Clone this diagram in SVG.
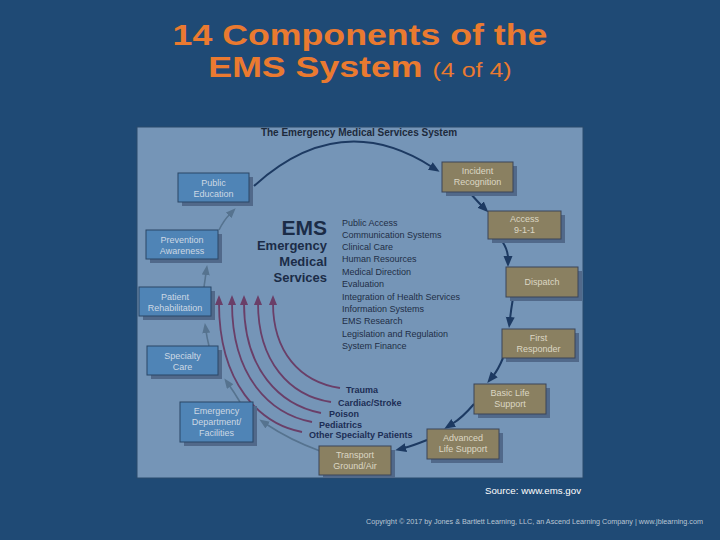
<svg xmlns="http://www.w3.org/2000/svg" width="720" height="540" viewBox="0 0 720 540">
<defs>
<style>
.title{font-family:"Liberation Sans",Arial,sans-serif;font-weight:bold;fill:#ea7a30;}
.sub{font-family:"Liberation Sans",Arial,sans-serif;fill:#ea7a30;font-weight:normal;}
.bt{font-family:"Liberation Sans",Arial,sans-serif;font-size:9px;text-anchor:middle;}
.blue .bx{fill:#4f84b6;stroke:#2b4766;stroke-width:1;}
.tan .bx{fill:#8a8061;stroke:#3a4458;stroke-width:1;}
.sh{fill:#51698a;}
.blue text{fill:#cdd8e4;}
.tan text{fill:#dcd7c4;}
.list{font-family:"Liberation Sans",Arial,sans-serif;font-size:9px;fill:#1f2e46;}
.pl{font-family:"Liberation Sans",Arial,sans-serif;font-size:9px;font-weight:bold;fill:#1c2d55;}
.ems{font-family:"Liberation Sans",Arial,sans-serif;font-weight:bold;fill:#1b2c47;text-anchor:end;}
.navy{fill:none;stroke:#1d3a62;stroke-width:2;marker-end:url(#mn);}
.gray{fill:none;stroke:#56738f;stroke-width:1.6;marker-end:url(#mg);}
.purp{fill:none;stroke:#6a3f68;stroke-width:1.8;marker-end:url(#mp);}
</style>
<marker id="mn" markerUnits="userSpaceOnUse" markerWidth="12" markerHeight="10" refX="2" refY="4.5" orient="auto"><path d="M0,0 L11,4.5 L0,9 Z" fill="#1d3a62"/></marker>
<marker id="mg" markerUnits="userSpaceOnUse" markerWidth="12" markerHeight="10" refX="2" refY="4" orient="auto"><path d="M0,0 L10,4 L0,8 Z" fill="#56738f"/></marker>
<marker id="mp" markerUnits="userSpaceOnUse" markerWidth="12" markerHeight="10" refX="2" refY="4" orient="auto"><path d="M0,0 L10,4 L0,8 Z" fill="#6a3f68"/></marker>
</defs>
<rect x="0" y="0" width="720" height="540" fill="#1f4a75"/>
<g id="title">
<g transform="translate(360,0) scale(1.19,1)">
<text class="title" x="0" y="45" font-size="30" text-anchor="middle">14 Components of the</text>
<text x="0" y="77" text-anchor="middle"><tspan class="title" font-size="30">EMS System </tspan><tspan class="sub" font-size="21">(4 of 4)</tspan></text>
</g>
</g>
<rect id="panel" x="137" y="127" width="446" height="351" fill="#7595b7" stroke="#2a4a6c" stroke-width="1"/>
<text x="359" y="136" font-family="Liberation Sans, Arial, sans-serif" font-size="10" font-weight="bold" fill="#1d2a3c" text-anchor="middle">The Emergency Medical Services System</text>
<g id="ems-block">
<text class="ems" x="327" y="235" font-size="21">EMS</text>
<text class="ems" x="327" y="250" font-size="13">Emergency</text>
<text class="ems" x="327" y="266" font-size="13">Medical</text>
<text class="ems" x="327" y="282" font-size="13">Services</text>
</g>
<g id="component-list" class="list">
<text x="342" y="226">Public Access</text>
<text x="342" y="238">Communication Systems</text>
<text x="342" y="250">Clinical Care</text>
<text x="342" y="262">Human Resources</text>
<text x="342" y="275">Medical Direction</text>
<text x="342" y="287">Evaluation</text>
<text x="342" y="300">Integration of Health Services</text>
<text x="342" y="312">Information Systems</text>
<text x="342" y="324">EMS Research</text>
<text x="342" y="337">Legislation and Regulation</text>
<text x="342" y="349">System Finance</text>
</g>
<g id="connectors">
<path class="navy" d="M254,186 Q340,108 432,167"/>
<path class="navy" d="M470,193 Q478,202 482,206"/>
<path class="navy" d="M502,241 Q508,250 508,258"/>
<path class="navy" d="M513,298 Q511,310 510,319"/>
<path class="navy" d="M503,358 Q498,370 493,376"/>
<path class="navy" d="M474,404 Q462,418 452,424"/>
<path class="navy" d="M427,440 Q412,446 404,448"/>
<path class="gray" d="M320,451 Q290,440 266,424"/>
<path class="gray" d="M240,402 Q234,392 229,385"/>
<path class="gray" d="M209,346 Q207,338 206,331"/>
<path class="gray" d="M204,287 Q205,280 206,273"/>
<path class="gray" d="M219,230 Q224,220 230,214"/>
<path class="purp" d="M340,388 C300,382 273,352 273,303"/>
<path class="purp" d="M331,402 C290,396 258,362 258,303"/>
<path class="purp" d="M321,413 C280,405 244,370 244,303"/>
<path class="purp" d="M312,422 C270,414 232,377 232,303"/>
<path class="purp" d="M302,432 C260,424 219,384 219,303"/>
</g>
<g id="patient-labels" class="pl">
<text x="346" y="393">Trauma</text>
<text x="338" y="406">Cardiac/Stroke</text>
<text x="329" y="417">Poison</text>
<text x="319" y="428">Pediatrics</text>
<text x="309" y="438">Other Specialty Patients</text>
</g>
<g id="public-education" class="blue"><rect class="sh" x="182" y="177" width="71" height="29"/><rect class="bx" x="178" y="173" width="71" height="29"/><text class="bt" x="213.5" y="186">Public</text><text class="bt" x="213.5" y="197">Education</text></g>
<g id="prevention-awareness" class="blue"><rect class="sh" x="150" y="234" width="72" height="29"/><rect class="bx" x="146" y="230" width="72" height="29"/><text class="bt" x="182" y="243">Prevention</text><text class="bt" x="182" y="254">Awareness</text></g>
<g id="patient-rehabilitation" class="blue"><rect class="sh" x="143" y="291" width="72" height="29"/><rect class="bx" x="139" y="287" width="72" height="29"/><text class="bt" x="175" y="300">Patient</text><text class="bt" x="175" y="311">Rehabilitation</text></g>
<g id="specialty-care" class="blue"><rect class="sh" x="151" y="350" width="71" height="29"/><rect class="bx" x="147" y="346" width="71" height="29"/><text class="bt" x="182.5" y="359">Specialty</text><text class="bt" x="182.5" y="370">Care</text></g>
<g id="emergency-department" class="blue"><rect class="sh" x="184" y="406" width="73" height="40"/><rect class="bx" x="180" y="402" width="73" height="40"/><text class="bt" x="216.5" y="414">Emergency</text><text class="bt" x="216.5" y="425">Department/</text><text class="bt" x="216.5" y="436">Facilities</text></g>
<g id="incident-recognition" class="tan"><rect class="sh" x="446" y="166" width="71" height="30"/><rect class="bx" x="442" y="162" width="71" height="30"/><text class="bt" x="477.5" y="174">Incident</text><text class="bt" x="477.5" y="185">Recognition</text></g>
<g id="access" class="tan"><rect class="sh" x="492" y="215" width="73" height="28"/><rect class="bx" x="488" y="211" width="73" height="28"/><text class="bt" x="524.5" y="222">Access</text><text class="bt" x="524.5" y="233">9-1-1</text></g>
<g id="dispatch" class="tan"><rect class="sh" x="510" y="271" width="72" height="30"/><rect class="bx" x="506" y="267" width="72" height="30"/><text class="bt" x="542" y="285">Dispatch</text></g>
<g id="first-responder" class="tan"><rect class="sh" x="506" y="333" width="73" height="29"/><rect class="bx" x="502" y="329" width="73" height="29"/><text class="bt" x="538.5" y="341">First</text><text class="bt" x="538.5" y="352">Responder</text></g>
<g id="basic-life-support" class="tan"><rect class="sh" x="478" y="388" width="72" height="30"/><rect class="bx" x="474" y="384" width="72" height="30"/><text class="bt" x="510" y="396">Basic Life</text><text class="bt" x="510" y="407">Support</text></g>
<g id="advanced-life-support" class="tan"><rect class="sh" x="431" y="433" width="72" height="30"/><rect class="bx" x="427" y="429" width="72" height="30"/><text class="bt" x="463" y="441">Advanced</text><text class="bt" x="463" y="452">Life Support</text></g>
<g id="transport" class="tan"><rect class="sh" x="323" y="450" width="72" height="28"/><rect class="bx" x="319" y="446" width="72" height="29"/><text class="bt" x="355" y="458">Transport</text><text class="bt" x="355" y="469">Ground/Air</text></g>
<text x="485" y="494" font-family="Liberation Sans, Arial, sans-serif" font-size="9" fill="#ffffff" textLength="96" lengthAdjust="spacingAndGlyphs">Source: www.ems.gov</text>
<text x="366" y="524" font-family="Liberation Sans, Arial, sans-serif" font-size="7" fill="#b9c6d4" textLength="337" lengthAdjust="spacingAndGlyphs">Copyright © 2017 by Jones &amp; Bartlett Learning, LLC, an Ascend Learning Company | www.jblearning.com</text>
</svg>
